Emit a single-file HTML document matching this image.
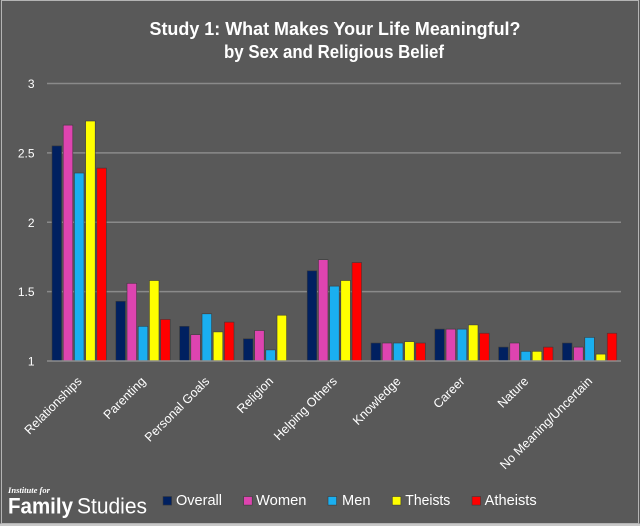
<!DOCTYPE html>
<html><head><meta charset="utf-8"><style>
html,body{margin:0;padding:0;background:#595959;}
svg{display:block;}
text{font-family:"Liberation Sans",Arial,sans-serif;fill:#ffffff;}
</style></head><body>
<svg width="640" height="526" viewBox="0 0 640 526" xmlns="http://www.w3.org/2000/svg">
<rect x="0" y="0" width="640" height="526" fill="#595959"/>
<rect x="0" y="523.5" width="640" height="3" fill="#c8c8c8"/>
<rect x="1.5" y="0.5" width="637" height="523" fill="none" stroke="#b4b4b4" stroke-width="1"/>

<!-- title -->
<text x="335" y="35" font-size="18" font-weight="bold" text-anchor="middle" textLength="371" lengthAdjust="spacingAndGlyphs">Study 1: What Makes Your Life Meaningful?</text>
<text x="334" y="58" font-size="18" font-weight="bold" text-anchor="middle" textLength="220" lengthAdjust="spacingAndGlyphs">by Sex and Religious Belief</text>

<!-- gridlines -->
<g stroke="#8a8a8a" stroke-width="1.5">
<line x1="47" y1="83.5" x2="621" y2="83.5"/>
<line x1="47" y1="152.9" x2="621" y2="152.9"/>
<line x1="47" y1="222.3" x2="621" y2="222.3"/>
<line x1="47" y1="291.6" x2="621" y2="291.6"/>
</g>

<!-- y labels -->
<g font-size="12" text-anchor="end">
<text x="34.5" y="88">3</text>
<text x="34.5" y="157.4">2.5</text>
<text x="34.5" y="226.8">2</text>
<text x="34.5" y="296.1">1.5</text>
<text x="34.5" y="365.5">1</text>
</g>

<!-- bars -->
<g stroke="#3a3a3a" stroke-width="0.6">
<!-- Relationships -->
<rect x="52.0" y="145.9" width="9.6" height="215.1" fill="#002060"/>
<rect x="63.2" y="125.1" width="9.6" height="235.9" fill="#DE44B0"/>
<rect x="74.4" y="173.0" width="9.6" height="188.0" fill="#1AAFF0"/>
<rect x="85.6" y="121.0" width="9.6" height="240.0" fill="#FFFF00"/>
<rect x="96.8" y="168.1" width="9.6" height="192.9" fill="#FF0000"/>
<!-- Parenting -->
<rect x="115.8" y="301.3" width="9.6" height="59.7" fill="#002060"/>
<rect x="127.0" y="283.3" width="9.6" height="77.7" fill="#DE44B0"/>
<rect x="138.2" y="326.3" width="9.6" height="34.7" fill="#1AAFF0"/>
<rect x="149.4" y="280.5" width="9.6" height="80.5" fill="#FFFF00"/>
<rect x="160.6" y="319.4" width="9.6" height="41.6" fill="#FF0000"/>
<!-- Personal Goals -->
<rect x="179.6" y="326.3" width="9.6" height="34.7" fill="#002060"/>
<rect x="190.8" y="334.6" width="9.6" height="26.4" fill="#DE44B0"/>
<rect x="202.0" y="313.8" width="9.6" height="47.2" fill="#1AAFF0"/>
<rect x="213.2" y="331.9" width="9.6" height="29.1" fill="#FFFF00"/>
<rect x="224.4" y="322.1" width="9.6" height="38.9" fill="#FF0000"/>
<!-- Religion -->
<rect x="243.4" y="338.8" width="9.6" height="22.2" fill="#002060"/>
<rect x="254.6" y="330.5" width="9.6" height="30.5" fill="#DE44B0"/>
<rect x="265.8" y="349.9" width="9.6" height="11.1" fill="#1AAFF0"/>
<rect x="277.0" y="315.2" width="9.6" height="45.8" fill="#FFFF00"/>
<!-- Helping Others -->
<rect x="307.2" y="270.8" width="9.6" height="90.2" fill="#002060"/>
<rect x="318.4" y="259.7" width="9.6" height="101.3" fill="#DE44B0"/>
<rect x="329.6" y="286.1" width="9.6" height="74.9" fill="#1AAFF0"/>
<rect x="340.8" y="280.5" width="9.6" height="80.5" fill="#FFFF00"/>
<rect x="352.0" y="262.5" width="9.6" height="98.5" fill="#FF0000"/>
<!-- Knowledge -->
<rect x="371.0" y="343.0" width="9.6" height="18.0" fill="#002060"/>
<rect x="382.2" y="343.0" width="9.6" height="18.0" fill="#DE44B0"/>
<rect x="393.4" y="343.0" width="9.6" height="18.0" fill="#1AAFF0"/>
<rect x="404.6" y="341.6" width="9.6" height="19.4" fill="#FFFF00"/>
<rect x="415.8" y="343.0" width="9.6" height="18.0" fill="#FF0000"/>
<!-- Career -->
<rect x="434.8" y="329.1" width="9.6" height="31.9" fill="#002060"/>
<rect x="446.0" y="329.1" width="9.6" height="31.9" fill="#DE44B0"/>
<rect x="457.2" y="329.1" width="9.6" height="31.9" fill="#1AAFF0"/>
<rect x="468.4" y="324.9" width="9.6" height="36.1" fill="#FFFF00"/>
<rect x="479.6" y="333.2" width="9.6" height="27.8" fill="#FF0000"/>
<!-- Nature -->
<rect x="498.6" y="347.1" width="9.6" height="13.9" fill="#002060"/>
<rect x="509.8" y="343.0" width="9.6" height="18.0" fill="#DE44B0"/>
<rect x="521.0" y="351.3" width="9.6" height="9.7" fill="#1AAFF0"/>
<rect x="532.2" y="351.3" width="9.6" height="9.7" fill="#FFFF00"/>
<rect x="543.4" y="347.1" width="9.6" height="13.9" fill="#FF0000"/>
<!-- No Meaning -->
<rect x="562.4" y="343.0" width="9.6" height="18.0" fill="#002060"/>
<rect x="573.6" y="347.1" width="9.6" height="13.9" fill="#DE44B0"/>
<rect x="584.8" y="337.4" width="9.6" height="23.6" fill="#1AAFF0"/>
<rect x="596.0" y="354.1" width="9.6" height="6.9" fill="#FFFF00"/>
<rect x="607.2" y="333.2" width="9.6" height="27.8" fill="#FF0000"/>
</g>

<!-- baseline -->
<line x1="47" y1="361" x2="621" y2="361" stroke="#8e8e8e" stroke-width="1.5"/>

<!-- x labels -->
<g font-size="12.5" text-anchor="end">
<text transform="translate(82.6,382) rotate(-45)">Relationships</text>
<text transform="translate(146.4,382) rotate(-45)">Parenting</text>
<text transform="translate(210.2,382) rotate(-45)">Personal Goals</text>
<text transform="translate(274,382) rotate(-45)">Religion</text>
<text transform="translate(337.8,382) rotate(-45)">Helping Others</text>
<text transform="translate(401.6,382) rotate(-45)">Knowledge</text>
<text transform="translate(465.4,382) rotate(-45)">Career</text>
<text transform="translate(529.2,382) rotate(-45)">Nature</text>
<text transform="translate(593,382) rotate(-45)">No Meaning/Uncertain</text>
</g>

<!-- logo -->
<text x="8" y="493" font-family="'Liberation Serif',serif" font-style="italic" font-weight="bold" font-size="8.5" textLength="42" lengthAdjust="spacingAndGlyphs" style="font-family:'Liberation Serif',serif">Institute for</text>
<text x="8" y="513.5" font-size="22" font-weight="bold" textLength="65" lengthAdjust="spacingAndGlyphs">Family</text>
<text x="77" y="513.5" font-size="22" textLength="70" lengthAdjust="spacingAndGlyphs" fill="#f0f0f0">Studies</text>

<!-- legend -->
<g stroke="#3a3a3a" stroke-width="0.6">
<rect x="163" y="496.5" width="8.6" height="8.6" fill="#002060"/>
<rect x="243.6" y="496.5" width="8.6" height="8.6" fill="#DE44B0"/>
<rect x="328" y="496.5" width="8.6" height="8.6" fill="#1AAFF0"/>
<rect x="392.3" y="496.5" width="8.6" height="8.6" fill="#FFFF00"/>
<rect x="472" y="496.5" width="8.6" height="8.6" fill="#FF0000"/>
</g>
<g font-size="14.5">
<text x="176" y="505" textLength="46" lengthAdjust="spacingAndGlyphs">Overall</text>
<text x="256" y="505" textLength="50.5" lengthAdjust="spacingAndGlyphs">Women</text>
<text x="342" y="505" textLength="28.5" lengthAdjust="spacingAndGlyphs">Men</text>
<text x="405.3" y="505" textLength="45" lengthAdjust="spacingAndGlyphs">Theists</text>
<text x="484.7" y="505" textLength="52" lengthAdjust="spacingAndGlyphs">Atheists</text>
</g>
</svg>
</body></html>
